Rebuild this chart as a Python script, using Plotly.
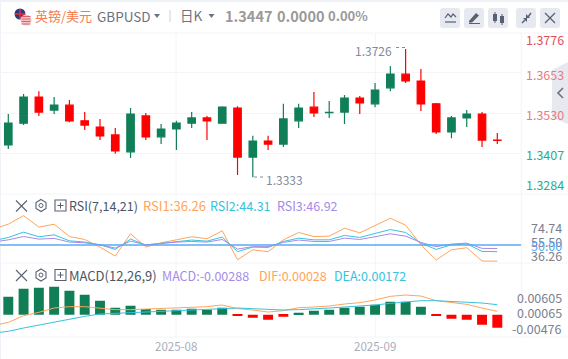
import plotly.graph_objects as go

W, H = 568, 359
# ---------- data ----------
candle_x = list(range(33))
opens = [1.3432,1.3499,1.3579,1.3539,1.3554,1.3506,1.3487,1.3463,1.3411,1.3521,1.3457,1.3481,1.3499,1.3515,1.3499,1.3545,1.3395,1.3444,1.3435,1.3506,1.3548,1.3531,1.3533,1.3576,1.3558,1.3607,1.3649,1.3628,1.3558,1.3472,1.3515,1.3527,1.3447]
highs = [1.3527,1.3588,1.3597,1.3579,1.3570,1.3533,1.3512,1.3484,1.3545,1.3530,1.3496,1.3506,1.3533,1.3521,1.3551,1.3551,1.3460,1.3460,1.3558,1.3558,1.3594,1.3567,1.3585,1.3582,1.3622,1.3674,1.3726,1.3665,1.3561,1.3521,1.3539,1.3533,1.3469]
lows = [1.3420,1.3493,1.3521,1.3527,1.3502,1.3478,1.3447,1.3405,1.3392,1.3447,1.3435,1.3417,1.3484,1.3447,1.3499,1.3340,1.3333,1.3417,1.3426,1.3484,1.3518,1.3515,1.3496,1.3527,1.3548,1.3597,1.3622,1.3536,1.3466,1.3453,1.3487,1.3426,1.3435]
closes = [1.3499,1.3579,1.3533,1.3554,1.3506,1.3493,1.3460,1.3414,1.3527,1.3457,1.3481,1.3499,1.3515,1.3506,1.3548,1.3395,1.3444,1.3435,1.3512,1.3545,1.3530,1.3532,1.3576,1.3561,1.3600,1.3649,1.3628,1.3558,1.3472,1.3515,1.3527,1.3447,1.3446]

line_x = list(range(-1, 33))
rsi1 = [63.3,67.5,74.74,65.0,67.5,57.1,54.6,48.2,40.6,59.4,48.2,51.8,54.3,56.9,55.2,61.9,37.5,45.9,44.3,54.3,60.5,57.1,57.4,64.1,60.2,66.7,72.5,66.7,50.1,37.3,45.9,47.6,36.4,36.26]
rsi2 = [53.5,56.3,60.8,56.9,58.5,53.5,52.4,50.1,46.2,54.9,49.9,51.5,52.9,54.1,53.2,56.6,44.3,48.2,47.9,52.9,55.7,54.3,54.3,58.0,56.3,59.7,63.0,60.5,51.5,46.2,50.1,51.0,44.5,44.31]
rsi3 = [52.4,54.3,57.1,54.9,55.5,52.4,51.8,50.1,47.3,53.2,50.1,51.5,52.4,52.9,52.4,54.6,46.5,48.5,48.5,52.1,54.1,52.9,52.9,55.7,54.6,56.9,59.4,57.4,52.1,48.5,50.7,51.5,47.1,46.92]
rsi_mid = [50, 50]

macd_hist = [.00399,.00576,.00598,.00620,.00531,.00443,.00310,.00155,.00199,.00125,.00111,.00111,.00133,.00111,.00155,-.00022,-.00066,-.00111,-.00044,.00044,.00089,.00111,.00155,.00177,.00221,.00288,.00288,.00177,-.00022,-.00089,-.00111,-.00221,-.00288]
dif = [-.00244,-.00170,-.00022,.00052,.00148,.00177,.00177,.00148,.00111,.00111,.00125,.00125,.00148,.00162,.00177,.00214,.00133,.00103,.00059,.00089,.00155,.00170,.00192,.00236,.00266,.00325,.00406,.00435,.00413,.00310,.00266,.00229,.00148,.00074]
dea = [-.00406,-.00369,-.00295,-.00229,-.00155,-.00089,-.00037,.00015,.00030,.00044,.00066,.00081,.00089,.00103,.00118,.00140,.00148,.00133,.00111,.00103,.00111,.00125,.00148,.00170,.00185,.00214,.00251,.00288,.00310,.00310,.00295,.00288,.00258,.00221]

grid_prices = [1.3653, 1.3530, 1.3407]
price_labels = ["1.3776", "1.3653", "1.3530", "1.3407", "1.3284"]
rsi_labels = ["74.74", "55.50", "50.00", "36.26"]
macd_labels = ["0.00605", "0.00065", "-0.00476"]
month_ticks = [11, 24]
month_labels = ["2025-08", "2025-09"]

# ---------- colours ----------
GREEN, RED = "#107f57", "#ff0000"
ORANGE, CYAN, PURPLE, BLUE = "#ffa45c", "#35c3de", "#a58be8", "#56aaf5"
GRID = "#f3f4f8"
FONT = "Noto Sans CJK SC, Noto Sans, sans-serif"

px = lambda x: x / W
py = lambda y: 1 - y / H
X_RANGE = [-0.543, 33.57]
XD = [px(0), px(521.3)]

fig = go.Figure()
fig.add_trace(go.Candlestick(x=candle_x, open=opens, high=highs, low=lows, close=closes,
    increasing=dict(line=dict(color=GREEN, width=1.2), fillcolor=GREEN),
    decreasing=dict(line=dict(color=RED, width=1.2), fillcolor=RED),
    xaxis="x", yaxis="y", hoverinfo="skip"))
for vals, col in [(rsi1, ORANGE), (rsi2, CYAN), (rsi3, PURPLE)]:
    fig.add_trace(go.Scatter(x=line_x, y=vals, mode="lines", line=dict(color=col, width=1),
                             xaxis="x2", yaxis="y2", hoverinfo="skip"))
fig.add_trace(go.Scatter(x=X_RANGE, y=rsi_mid, mode="lines", line=dict(color=BLUE, width=1.5),
                         xaxis="x2", yaxis="y2", hoverinfo="skip"))
fig.add_trace(go.Bar(x=candle_x, y=macd_hist, width=0.65,
                     marker=dict(color=[GREEN if v >= 0 else RED for v in macd_hist], line_width=0),
                     xaxis="x3", yaxis="y3", hoverinfo="skip"))
for vals, col in [(dif, ORANGE), (dea, CYAN)]:
    fig.add_trace(go.Scatter(x=line_x, y=vals, mode="lines", line=dict(color=col, width=1),
                             xaxis="x3", yaxis="y3", hoverinfo="skip"))

# ---------- annotations ----------
notes = []
def note(x, y, text, size=12, color="#6b7280", anchor="left", family=FONT):
    notes.append(dict(xref="paper", yref="paper", x=px(x), y=py(y), text=text, showarrow=False,
                      xanchor=anchor, yanchor="middle", align=anchor,
                      font=dict(size=size, color=color, family=family), borderpad=0, borderwidth=0))

note(35, 15, "英镑/美元", 13, "#f57a4c")
note(97, 16, "GBPUSD", 13.5, "#6b7280")
note(180, 15, "日K", 13.5, "#6b7280")
for x, t, s in [(225, "<b>1.3447</b>", 14.5), (277, "<b>0.0000</b>", 14.5), (328, "<b>0.00%</b>", 13)]:
    note(x, 15, t, s, "#9a9a9a")

for y, t, c in zip([40, 74.5, 114.5, 155, 184], price_labels,
                   ["#e0505c", "#e87a84", "#e87a84", "#25ad8e", "#25ad8e"]):
    note(526, y, t, 12.5, c)
for y, t, c in zip([227.7, 241, 245, 255], rsi_labels, ["#7b8090", "#7b8090", BLUE, "#7b8090"]):
    note(562, y, t, 12.5, c, "right")
for y, t in zip([297, 312.5, 328], macd_labels):
    note(562, y, t, 12.5, "#7b8090", "right")
for tick, t in zip([176, 375.3], month_labels):
    note(tick, 345.5, t, 11.5, "#a9adb9", "center")

note(355, 50, "1.3726", 12, "#858a99")
note(266, 179, "1.3333", 12, "#858a99")

note(69, 205.5, "RSI(7,14,21)", 12.5, "#4b5563")
note(143, 205.5, "RSI1:36.26", 13, ORANGE)
note(210, 205.5, "RSI2:44.31", 12.5, CYAN)
note(277, 205.5, "RSI3:46.92", 12.5, PURPLE)
note(69, 275, "MACD(12,26,9)", 13, "#4b5563")
note(162, 275, "MACD:-0.00288", 12.5, PURPLE)
note(259, 275, "DIF:0.00028", 12.5, ORANGE)
note(334, 275, "DEA:0.00172", 12.5, CYAN)

# ---------- shapes ----------
shapes = []
def rect(x0, y0, x1, y1, fill, layer="below"):
    shapes.append(dict(type="rect", xref="paper", yref="paper", x0=px(x0), x1=px(x1), y0=py(y0), y1=py(y1),
                       fillcolor=fill, line_width=0, layer=layer))
def seg(x0, y0, x1, y1, color, width=1, dash="solid", layer="above"):
    shapes.append(dict(type="line", xref="paper", yref="paper", x0=px(x0), x1=px(x1), y0=py(y0), y1=py(y1),
                       line=dict(color=color, width=width, dash=dash), layer=layer))
def path(points, fill=None, color=None, width=1, close=True):
    d = "M" + " L".join(f"{px(a):.5f},{py(b):.5f}" for a, b in points) + (" Z" if close else "")
    shapes.append(dict(type="path", xref="paper", yref="paper", path=d, layer="above",
                       fillcolor=fill if fill else "rgba(0,0,0,0)",
                       line=dict(color=color if color else "rgba(0,0,0,0)", width=width)))
def disc(cx, cy, r, fill):
    shapes.append(dict(type="circle", xref="paper", yref="paper", x0=px(cx - r), x1=px(cx + r),
                       y0=py(cy + r), y1=py(cy - r), fillcolor=fill, line_width=0, layer="above"))

# page frame
rect(0, 0, W, 2, "#eef1f5")
rect(0, 0, 1, H, "#eef1f5")
# pane rules
for y in [33, 194, 263, 337]:
    seg(0, y, W, y, GRID, 1, layer="below")
seg(521.3, 33, 521.3, 337, GRID, 1, layer="below")
for x in [176, 375.3]:
    seg(x, 33, x, 337, GRID, 1, layer="below")
# header divider and carets
seg(170, 10, 170, 22, "#c9ced8", 1)
path([(154, 14), (160, 14), (157, 18)], fill="#6b7280")
path([(208.5, 14), (214.5, 14), (211.5, 18)], fill="#6b7280")
# flags
disc(20, 14, 5.5, "#2b3a7a")
seg(15, 14, 25, 14, "#e0303a", 1.6)
seg(20, 9, 20, 19, "#e0303a", 1.6)
disc(26, 20, 5.5, "#f3c6c6")
for yy in [16.5, 19, 21.5, 24]:
    seg(21.5, yy, 30.5, yy, "#e0606a", 1)
# toolbar buttons
for x0 in [440, 464, 488, 516, 540]:
    x1, y0, y1, r = x0 + 20, 8, 28, 3
    d = (f"M{px(x0 + r)},{py(y0)} L{px(x1 - r)},{py(y0)} Q{px(x1)},{py(y0)} {px(x1)},{py(y0 + r)} "
         f"L{px(x1)},{py(y1 - r)} Q{px(x1)},{py(y1)} {px(x1 - r)},{py(y1)} L{px(x0 + r)},{py(y1)} "
         f"Q{px(x0)},{py(y1)} {px(x0)},{py(y1 - r)} L{px(x0)},{py(y0 + r)} Q{px(x0)},{py(y0)} {px(x0 + r)},{py(y0)} Z")
    shapes.append(dict(type="path", xref="paper", yref="paper", path=d, fillcolor="#e7e9f1", line_width=0, layer="below"))
G = "#596070"
path([(445, 18), (448, 14), (451, 17), (453, 14), (456, 17)], color=G, width=1.2, close=False)
seg(445, 22, 456, 22, G, 1.2)
path([(469, 21), (476, 13), (479, 15.5), (472, 22.5), (469, 22.5)], fill=G)
seg(469, 23.5, 480, 23.5, G, 1)
rect(493, 14, 497, 21, G, "above"); seg(495, 12, 495, 23, G, 1)
rect(500, 16, 504, 23, G, "above"); seg(502, 14, 502, 25, G, 1)
seg(522, 23, 525, 20, G, 1.4); seg(528, 17, 531, 13, G, 1.4)
path([(523, 18), (527, 18), (527, 22)], fill=G)
path([(526, 14), (530, 18), (526, 18)], fill=G)
seg(545, 13, 555, 23, G, 1.2); seg(555, 13, 545, 23, G, 1.2)
# right side tab
path([(552, 70), (568, 62), (568, 124), (552, 118)], fill="#e8e9ef")
path([(563, 88), (558, 93), (563, 98)], color="#6b7280", width=1.6, close=False)
# leader dots beside the extremes
seg(396, 47.5, 406, 47.5, "#858a99", 1, "dot")
seg(254, 177, 263, 177, "#858a99", 1, "dot")
# pane tool icons
for cy in [205.5, 275]:
    seg(16, cy - 5, 27, cy + 6, "#596070", 1.1)
    seg(27, cy - 5, 16, cy + 6, "#596070", 1.1)
    hexa = [(41, cy - 6), (46, cy - 3), (46, cy + 3), (41, cy + 6), (36, cy + 3), (36, cy - 3)]
    path(hexa, color="#596070", width=1.1)
    shapes.append(dict(type="circle", xref="paper", yref="paper", x0=px(39), x1=px(43), y0=py(cy + 2), y1=py(cy - 2),
                       line=dict(color="#596070", width=1), layer="above"))
    path([(55, cy - 5.5), (66, cy - 5.5), (66, cy + 5.5), (55, cy + 5.5)], color="#596070", width=1.1)
    seg(57.5, cy, 63.5, cy, "#596070", 1)
    seg(60.5, cy - 3, 60.5, cy + 3, "#596070", 1)

hidden = dict(showgrid=False, zeroline=False, showticklabels=False, ticks="", showline=False)
fig.update_layout(
    width=W, height=H, margin=dict(l=0, r=0, t=0, b=0), autosize=False,
    paper_bgcolor="#ffffff", plot_bgcolor="rgba(0,0,0,0)", showlegend=False, boxgap=0.3,
    font=dict(family=FONT), annotations=notes, shapes=shapes, bargap=0.35,
    xaxis=dict(domain=XD, range=X_RANGE, rangeslider=dict(visible=False), anchor="y", **hidden),
    xaxis2=dict(domain=XD, range=X_RANGE, anchor="y2", **hidden),
    xaxis3=dict(domain=XD, range=X_RANGE, anchor="y3", tickvals=month_ticks, ticktext=month_labels, **hidden),
    yaxis=dict(domain=[py(194), py(33)], range=[1.3282, 1.3775], anchor="x", side="right",
               showgrid=True, gridcolor=GRID, gridwidth=1, zeroline=False, showticklabels=False,
               tickvals=grid_prices, ticks=""),
    yaxis2=dict(domain=[py(263), py(194)], range=[34.74, 92.98], anchor="x2", **hidden),
    yaxis3=dict(domain=[py(337), py(263)], range=[-.00494, .01144], anchor="x3", **hidden),
)
fig.write_html("out.html", config=dict(displayModeBar=False),
               post_script="document.body.style.margin='0';document.documentElement.style.overflow='hidden';")
